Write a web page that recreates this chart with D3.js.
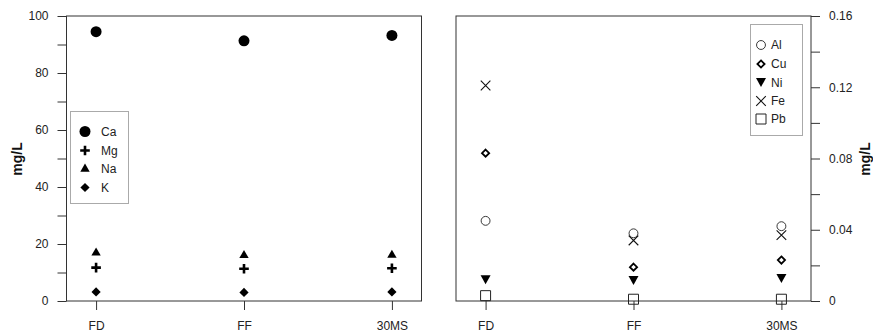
<!DOCTYPE html>
<html>
<head>
<meta charset="utf-8">
<script src="https://cdn.jsdelivr.net/npm/d3@7"></script>
<style>
  body { margin: 0; background: #fff; }
  svg { font-family: "Liberation Sans", Arial, sans-serif; }
  .axis text { font-size: 12px; fill: #222; }
  .axis path, .axis line { stroke: #333; }
  .ylab { font-size: 14px; font-weight: bold; fill: #111; }
  .legend text { font-size: 12px; fill: #222; }
</style>
</head>
<body>
<div id="chart"></div>
<script>
// sites
const categories = ["FD", "FF", "30MS"];

// major ions, mg/L (left panel)
const caValues = [94.5, 91.3, 93.2];
const mgValues = [11.7, 11.3, 11.5];
const naValues = [16.9, 16.0, 16.1];
const kValues  = [3.2, 3.0, 3.2];

// trace metals, mg/L (right panel)
const alValues = [0.045, 0.038, 0.042];
const cuValues = [0.083, 0.019, 0.023];
const niValues = [0.012, 0.0115, 0.0127];
const feValues = [0.121, 0.034, 0.037];
const pbValues = [0.003, 0.001, 0.001];

const leftTicks = [0, 10, 20, 30, 40, 50, 60, 70, 80, 90, 100];
const rightTicks = [0, 0.02, 0.04, 0.06, 0.08, 0.1, 0.12, 0.14, 0.16];

const width = 873, height = 333;
const plotTop = 16, plotBottom = 301;

const svg = d3.select("#chart").append("svg")
    .attr("width", width)
    .attr("height", height);

// marker shapes
function sym(type, size) {
    return d3.symbol().type(type).size(size)();
}
const symbols = {
    Ca: { d: sym(d3.symbolCircle, 95), fill: "#000", stroke: "none" },
    Mg: { d: "M-4.8,0H4.8M0,-4.8V4.8", fill: "none", stroke: "#000", sw: 2.6 },
    Na: { d: sym(d3.symbolTriangle, 38), fill: "#000", stroke: "none" },
    K:  { d: "M0,-4.6L4.6,0L0,4.6L-4.6,0Z", fill: "#000", stroke: "none" },
    Al: { d: sym(d3.symbolCircle, 62), fill: "none", stroke: "#222", sw: 0.9 },
    Cu: { d: "M0,-3.6L3.6,0L0,3.6L-3.6,0Z", fill: "none", stroke: "#000", sw: 1.8 },
    Ni: { d: "M-5,-4.5L5,-4.5L0,4.5Z", fill: "#000", stroke: "none" },
    Fe: { d: "M-4.8,-4.8L4.8,4.8M-4.8,4.8L4.8,-4.8", fill: "none", stroke: "#111", sw: 1.1 },
    Pb: { d: "M-5,-5H5V5H-5Z", fill: "none", stroke: "#222", sw: 1 }
};

function drawPanel(x0, x1, yMax, ticks, labelEvery, series, side) {
    const x = d3.scalePoint().domain(categories).range([x0, x1]).padding(0.2);
    const y = d3.scaleLinear().domain([0, yMax]).range([plotBottom, plotTop]);
    const g = svg.append("g");

    // frame
    g.append("rect")
        .attr("x", x0).attr("y", plotTop)
        .attr("width", x1 - x0).attr("height", plotBottom - plotTop)
        .attr("fill", "none").attr("stroke", "#333").attr("stroke-width", 1);

    // x axis
    const xa = g.append("g").attr("class", "axis")
        .attr("transform", `translate(0,${plotBottom})`)
        .call(d3.axisBottom(x).tickSize(9).tickPadding(11));
    xa.select(".domain").remove();

    // y axis
    const fmt = side === "left" ? d3.format("d") : (d => d === 0 ? "0" : d3.format(".2f")(d));
    const axisFn = side === "left" ? d3.axisLeft(y) : d3.axisRight(y);
    const ya = g.append("g").attr("class", "axis")
        .attr("transform", `translate(${side === "left" ? x0 : x1},0)`)
        .call(axisFn.tickValues(ticks).tickSize(9).tickPadding(9)
            .tickFormat((d, i) => (i % labelEvery === 0 ? fmt(d) : "")));
    ya.select(".domain").remove();

    // points
    series.forEach(s => {
        g.append("g").selectAll("path")
            .data(s.values)
            .join("path")
            .attr("transform", (d, i) => `translate(${x(categories[i])},${y(d)})`)
            .attr("d", symbols[s.name].d)
            .attr("fill", symbols[s.name].fill)
            .attr("stroke", symbols[s.name].stroke)
            .attr("stroke-width", symbols[s.name].sw || 0);
    });
}

drawPanel(66.5, 421.5, 100, leftTicks, 2, [
    { name: "Ca", values: caValues },
    { name: "Mg", values: mgValues },
    { name: "Na", values: naValues },
    { name: "K", values: kValues }
], "left");

drawPanel(456, 811, 0.16, rightTicks, 2, [
    { name: "Al", values: alValues },
    { name: "Cu", values: cuValues },
    { name: "Ni", values: niValues },
    { name: "Fe", values: feValues },
    { name: "Pb", values: pbValues }
], "right");

// axis titles
svg.append("text").attr("class", "ylab")
    .attr("transform", "translate(22,159) rotate(-90)")
    .attr("text-anchor", "middle").text("mg/L");
svg.append("text").attr("class", "ylab")
    .attr("transform", "translate(870,159) rotate(-90)")
    .attr("text-anchor", "middle").text("mg/L");

// legends
function legend(bx, by, bw, bh, names, symX, textX, rowY) {
    const lg = svg.append("g").attr("class", "legend");
    lg.append("rect").attr("x", bx).attr("y", by).attr("width", bw).attr("height", bh)
        .attr("fill", "#fff").attr("stroke", "#aaa").attr("stroke-width", 1);
    names.forEach((n, i) => {
        const s = symbols[n];
        lg.append("path")
            .attr("transform", `translate(${symX},${rowY[i]})`)
            .attr("d", s.d).attr("fill", s.fill).attr("stroke", s.stroke)
            .attr("stroke-width", s.sw || 0);
        lg.append("text").attr("x", textX).attr("y", rowY[i]).attr("dy", "0.35em").text(n);
    });
}
legend(70.5, 111.5, 58, 92, ["Ca", "Mg", "Na", "K"], 85, 101, [131.5, 150.5, 169, 187.5]);
legend(750.5, 24.5, 52, 111, ["Al", "Cu", "Ni", "Fe", "Pb"], 761, 771, [45, 64, 82.5, 101, 119]);
</script>
</body>
</html>
